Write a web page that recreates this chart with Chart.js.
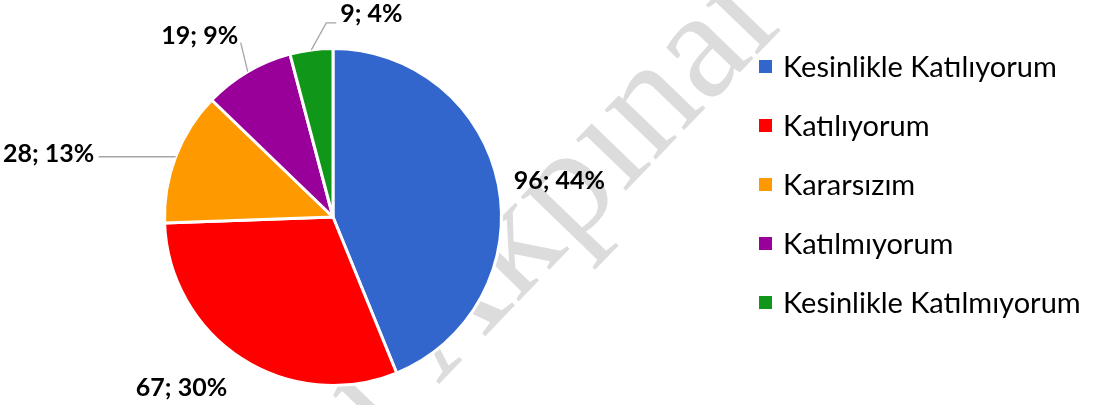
<!DOCTYPE html>
<html lang="tr">
<head>
    <meta charset="UTF-8">
    <title>Katılım Dağılımı</title>
    <script src="https://cdn.jsdelivr.net/npm/chart.js"></script>
    <style>
        html, body { margin: 0; padding: 0; background: #fff; }
        #wrap { width: 1096px; height: 405px; position: relative; }
    </style>
</head>
<body>
<div id="wrap">
    <canvas id="pie-chart"></canvas>
</div>
<script>
    // veriler
    const categories = ['Kesinlikle Katılıyorum', 'Katılıyorum', 'Kararsızım', 'Katılmıyorum', 'Kesinlikle Katılmıyorum'];
    const counts = [96, 67, 28, 19, 9];
    const percentLabels = ['44%', '30%', '13%', '9%', '4%'];
    const colors = ['#3366CC', '#FF0000', '#FF9900', '#990099', '#109618'];

    // etiket yerleşimi (dilimin dış noktasına göre kaydırma) ve kılavuz çizgileri
    const labelOffsets = [[61, -4], [-60, 29], [-127, -3], [-48, -36], [60, -36]];
    const leaderLines = [null, null, [[0, 0], [-77, 0]], [[0, 0], [-7, -29]], [[0, 0], [15, -27], [25, -27]]];

    const watermark = {
        id: 'watermark',
        beforeDraw(chart) {
            const ctx = chart.ctx;
            ctx.save();
            ctx.fillStyle = '#fff';
            ctx.fillRect(0, 0, chart.width, chart.height);
            ctx.fillStyle = '#dcdcdc';
            ctx.font = '155px "Liberation Serif"';
            ctx.textBaseline = 'alphabetic';
            ctx.translate(438, 385);
            ctx.rotate(-46 * Math.PI / 180);
            const pre = ctx.measureText('t ').width;
            ctx.fillText('t Akpınar İli', -pre, 0);
            ctx.restore();
        }
    };

    const sliceLabels = {
        id: 'sliceLabels',
        afterDatasetsDraw(chart) {
            const ctx = chart.ctx;
            const arcs = chart.getDatasetMeta(0).data;
            ctx.save();
            arcs.forEach((arc, i) => {
                const mid = (arc.startAngle + arc.endAngle) / 2;
                const px = arc.x + Math.cos(mid) * arc.outerRadius;
                const py = arc.y + Math.sin(mid) * arc.outerRadius;
                const line = leaderLines[i];
                if (line) {
                    ctx.strokeStyle = '#a6a6a6';
                    ctx.lineWidth = 1.3;
                    ctx.beginPath();
                    line.forEach((p, k) => {
                        if (k === 0) ctx.moveTo(px + p[0], py + p[1]);
                        else ctx.lineTo(px + p[0], py + p[1]);
                    });
                    ctx.stroke();
                }
                ctx.fillStyle = '#000';
                ctx.font = 'bold 25px Lato';
                ctx.textAlign = 'center';
                ctx.textBaseline = 'middle';
                ctx.fillText(counts[i] + '; ' + percentLabels[i], px + labelOffsets[i][0], py + labelOffsets[i][1]);
            });
            ctx.restore();
        }
    };

    const sideLegend = {
        id: 'sideLegend',
        afterDraw(chart) {
            const ctx = chart.ctx;
            const x0 = 759, y0 = 66.5, step = 59;
            ctx.save();
            ctx.font = '29px Lato';
            ctx.textBaseline = 'middle';
            ctx.textAlign = 'left';
            chart.data.labels.forEach((lab, i) => {
                const y = y0 + i * step;
                ctx.fillStyle = chart.data.datasets[0].backgroundColor[i];
                ctx.fillRect(x0, y - 6.5, 13, 13);
                ctx.fillStyle = '#000';
                ctx.fillText(lab, x0 + 24, y + 1);
            });
            ctx.restore();
        }
    };

    new Chart(document.getElementById('pie-chart'), {
        type: 'pie',
        data: {
            labels: categories,
            datasets: [{
                data: counts,
                backgroundColor: colors,
                borderColor: '#fff',
                borderWidth: 3
            }]
        },
        options: {
            responsive: true,
            maintainAspectRatio: false,
            animation: false,
            layout: { padding: { left: 163, right: 593, top: 47, bottom: 18 } },
            plugins: {
                legend: { display: false },
                tooltip: { enabled: false }
            }
        },
        plugins: [watermark, sliceLabels, sideLegend]
    });
</script>
</body>
</html>
